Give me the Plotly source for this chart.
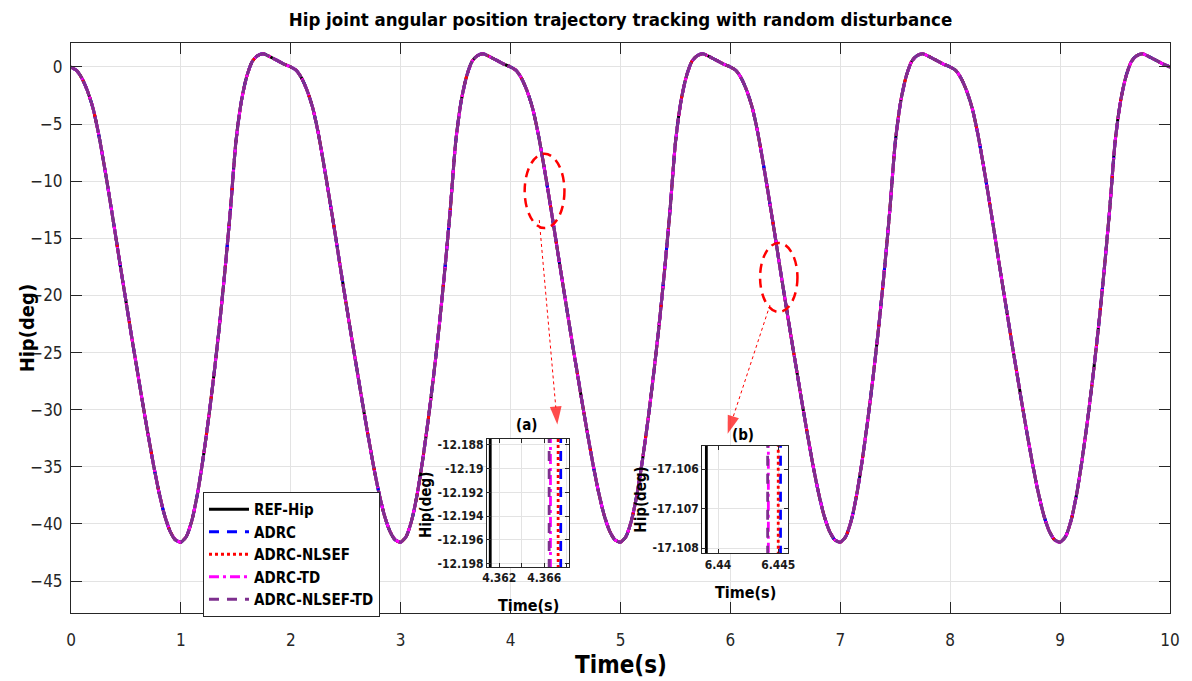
import plotly.graph_objects as go

# ---------------- data ----------------
time_s = [round(i * 0.05, 2) for i in range(201)]

hip_ref = [
    0.0, -0.3, -1.0, -2.1, -3.6, -5.8, -8.5, -11.4, -14.4, -17.5,
    -20.5, -23.5, -26.4, -29.3, -32.1, -34.8, -37.2, -39.2, -40.6, -41.4,
    -41.6, -41.1, -39.7, -37.4, -34.4, -30.9, -27.0, -22.7, -17.9, -12.6,
    -6.6, -3.0, -0.8, 0.5, 1.0, 1.15, 0.95, 0.7, 0.45, 0.2,
    0.0, -0.3, -1.0, -2.1, -3.6, -5.8, -8.5, -11.4, -14.4, -17.5,
    -20.5, -23.5, -26.4, -29.3, -32.1, -34.8, -37.2, -39.2, -40.6, -41.4,
    -41.6, -41.1, -39.7, -37.4, -34.4, -30.9, -27.0, -22.7, -17.9, -12.6,
    -6.6, -3.0, -0.8, 0.5, 1.0, 1.15, 0.95, 0.7, 0.45, 0.2,
    0.0, -0.3, -1.0, -2.1, -3.6, -5.8, -8.5, -11.4, -14.4, -17.5,
    -20.5, -23.5, -26.4, -29.3, -32.1, -34.8, -37.2, -39.2, -40.6, -41.4,
    -41.6, -41.1, -39.7, -37.4, -34.4, -30.9, -27.0, -22.7, -17.9, -12.6,
    -6.6, -3.0, -0.8, 0.5, 1.0, 1.15, 0.95, 0.7, 0.45, 0.2,
    0.0, -0.3, -1.0, -2.1, -3.6, -5.8, -8.5, -11.4, -14.4, -17.5,
    -20.5, -23.5, -26.4, -29.3, -32.1, -34.8, -37.2, -39.2, -40.6, -41.4,
    -41.6, -41.1, -39.7, -37.4, -34.4, -30.9, -27.0, -22.7, -17.9, -12.6,
    -6.6, -3.0, -0.8, 0.5, 1.0, 1.15, 0.95, 0.7, 0.45, 0.2,
    0.0, -0.3, -1.0, -2.1, -3.6, -5.8, -8.5, -11.4, -14.4, -17.5,
    -20.5, -23.5, -26.4, -29.3, -32.1, -34.8, -37.2, -39.2, -40.6, -41.4,
    -41.6, -41.1, -39.7, -37.4, -34.4, -30.9, -27.0, -22.7, -17.9, -12.6,
    -6.6, -3.0, -0.8, 0.5, 1.0, 1.15, 0.95, 0.7, 0.45, 0.2,
    0.0,
]
# at the main scale the controlled trajectories overlap the reference
hip_adrc = list(hip_ref)
hip_nlsef = list(hip_ref)
hip_td = list(hip_ref)
hip_nlsef_td = list(hip_ref)

series_names = ["REF-Hip", "ADRC", "ADRC-NLSEF", "ADRC-TD", "ADRC-NLSEF-TD"]

# zoom (a): crossing times of each curve near t = 4.36 s
zoom_a_y = [-12.187, -12.1995]
zoom_a_t = {"REF-Hip": 4.36120, "ADRC": 4.36746, "ADRC-NLSEF": 4.36723,
            "ADRC-TD": 4.36655, "ADRC-NLSEF-TD": 4.36643}
zoom_a_xticks = [4.362, 4.364, 4.366, 4.368]
zoom_a_xlabels = ["4.362", "", "4.366", ""]
zoom_a_yticks = [-12.188, -12.19, -12.192, -12.194, -12.196, -12.198]
zoom_a_ylabels = ["-12.188", "-12.19", "-12.192", "-12.194", "-12.196", "-12.198"]

# zoom (b): crossing times near t = 6.44 s
zoom_b_y = [-17.1052, -17.1083]
zoom_b_t = {"REF-Hip": 6.43903, "ADRC": 6.44519, "ADRC-NLSEF": 6.44500,
            "ADRC-TD": 6.44418, "ADRC-NLSEF-TD": 6.44412}
zoom_b_xticks = [6.44, 6.445]
zoom_b_xlabels = ["6.44", "6.445"]
zoom_b_yticks = [-17.106, -17.107, -17.108]
zoom_b_ylabels = ["-17.106", "-17.107", "-17.108"]

x_ticks = list(range(0, 11))
y_ticks = [0, -5, -10, -15, -20, -25, -30, -35, -40, -45]

# ---------------- styles ----------------
FONT = "Liberation Sans Narrow, Arial Narrow, DejaVu Sans Condensed, Liberation Sans, Arial, sans-serif"
AX = "#262626"
styles = {
    "REF-Hip": dict(color="#000000", dash="solid", main="solid"),
    "ADRC": dict(color="#0000FF", dash="10px,8px", main="10px,8px"),
    "ADRC-NLSEF": dict(color="#FF0000", dash="3px,3px", main="3px,3px"),
    "ADRC-TD": dict(color="#FF00FF", dash="10px,4px,3px,4px", main="12px,3px,3px,3px"),
    "ADRC-NLSEF-TD": dict(color="#7E2F8E", dash="10px,8px", main="16px,3px"),
}
main_values = {"REF-Hip": hip_ref, "ADRC": hip_adrc, "ADRC-NLSEF": hip_nlsef,
               "ADRC-TD": hip_td, "ADRC-NLSEF-TD": hip_nlsef_td}

fig = go.Figure()
for name in series_names:
    st = styles[name]
    fig.add_trace(go.Scatter(
        x=time_s, y=main_values[name], mode="lines", name=name, legendgroup=name,
        showlegend=False,
        line=dict(color=st["color"], dash=st["main"], width=3, shape="spline", smoothing=0.6),
        xaxis="x", yaxis="y"))

# legend entries
for name in series_names:
    st = styles[name]
    fig.add_trace(go.Scatter(
        x=[None], y=[None], mode="lines", name=name, legendgroup=name,
        line=dict(color=st["color"], dash=st["dash"], width=3),
        xaxis="x", yaxis="y"))

for name in series_names:
    st = styles[name]
    fig.add_trace(go.Scatter(
        x=[zoom_a_t[name]] * 2, y=zoom_a_y, mode="lines", showlegend=False,
        line=dict(color=st["color"], dash=st["dash"], width=2.8),
        xaxis="x2", yaxis="y2"))
    fig.add_trace(go.Scatter(
        x=[zoom_b_t[name]] * 2, y=zoom_b_y, mode="lines", showlegend=False,
        line=dict(color=st["color"], dash=st["dash"], width=2.8),
        xaxis="x3", yaxis="y3"))

# dotted pointer arrows from the marked regions to the zoom boxes
for (xs, ys) in [([4.261, 4.425], [-13.4, -31.3]), ([6.36, 5.975], [-20.84, -32.1])]:
    fig.add_trace(go.Scatter(
        x=xs, y=ys, mode="lines+markers", showlegend=False, hoverinfo="skip",
        line=dict(color="#FF0000", dash="dot", width=1),
        marker=dict(symbol="arrow", size=[0, 19], color="#FF0000", angleref="previous",
                    line=dict(width=0)),
        xaxis="x", yaxis="y"))

main_axis = dict(showgrid=True, gridcolor="#E3E3E3", gridwidth=1, zeroline=False,
                 showline=True, linecolor=AX, linewidth=1, mirror="ticks",
                 ticks="inside", ticklen=11, tickcolor=AX, tickwidth=1,
                 tickfont=dict(family=FONT, size=17, color=AX))
inset_axis = dict(showgrid=True, gridcolor="#E3E3E3", gridwidth=1, zeroline=False,
                  showline=True, linecolor=AX, linewidth=1, mirror="ticks",
                  ticks="inside", ticklen=4, tickcolor=AX, tickwidth=1,
                  tickfont=dict(family=FONT, size=12, color="#1a1a1a", weight="bold"))

fig.update_layout(
    width=1192, height=681,
    margin=dict(l=71, r=14, t=43, b=68),
    paper_bgcolor="white", plot_bgcolor="white",
    title=dict(text="<b>Hip joint angular position trajectory tracking with random disturbance</b>",
               x=0.5, xref="paper", xanchor="center", y=1 - 20 / 681, yanchor="middle",
               font=dict(family=FONT, size=18.5, color="#000000")),
    xaxis=dict(main_axis, range=[0, 10], tickvals=x_ticks, ticklabelstandoff=12),
    yaxis=dict(main_axis, range=[-47.8, 2.1], tickvals=y_ticks, ticklabelstandoff=4),
    xaxis2=dict(inset_axis, domain=[0.3785, 0.4535], anchor="y2", range=[4.36091, 4.36823],
                tickvals=zoom_a_xticks, ticktext=zoom_a_xlabels),
    yaxis2=dict(inset_axis, domain=[0.0807, 0.3053], anchor="x2", range=[-12.1983, -12.1875],
                tickvals=zoom_a_yticks, ticktext=zoom_a_ylabels),
    xaxis3=dict(inset_axis, domain=[0.5743, 0.6525], anchor="y3", range=[6.43868, 6.44582],
                tickvals=zoom_b_xticks, ticktext=zoom_b_xlabels),
    yaxis3=dict(inset_axis, domain=[0.1047, 0.293], anchor="x3", range=[-17.10813, -17.10541],
                tickvals=zoom_b_yticks, ticktext=zoom_b_ylabels),
    legend=dict(x=0.1201, y=0.2123, xanchor="left", yanchor="top",
                bgcolor="white", bordercolor=AX, borderwidth=1,
                font=dict(family=FONT, size=15, color="#000000", weight="bold"),
                tracegroupgap=0, itemwidth=40),
    showlegend=True,
)

# dashed ellipses marking the zoomed regions
fig.add_shape(type="circle", xref="x", yref="y", x0=4.128, x1=4.49, y0=-7.6, y1=-14.1,
              line=dict(color="#FF0000", width=2.5, dash="9px,6px"))
fig.add_shape(type="circle", xref="x", yref="y", x0=6.27, x1=6.61, y0=-15.4, y1=-21.45,
              line=dict(color="#FF0000", width=2.5, dash="9px,6px"))

def ann(text, x, y, size, angle=0):
    fig.add_annotation(text="<b>" + text + "</b>", x=x, y=y, xref="paper", yref="paper",
                       xanchor="center", yanchor="middle", showarrow=False, textangle=angle,
                       font=dict(family=FONT, size=size, color="#000000"))

ann("Time(s)", 0.5, -0.0912, 24)
ann("Hip(deg)", -0.0397, 0.5, 20, -90)
ann("(a)", 0.4146, 0.3298, 15)
ann("(b)", 0.6116, 0.3123, 15)
ann("Hip(deg)", 0.3231, 0.1895, 15, -90)
ann("Time(s)", 0.4164, 0.014, 16)
ann("Hip(deg)", 0.5183, 0.1982, 15, -90)
ann("Time(s)", 0.6134, 0.0368, 16)

fig.write_html("out.html")
